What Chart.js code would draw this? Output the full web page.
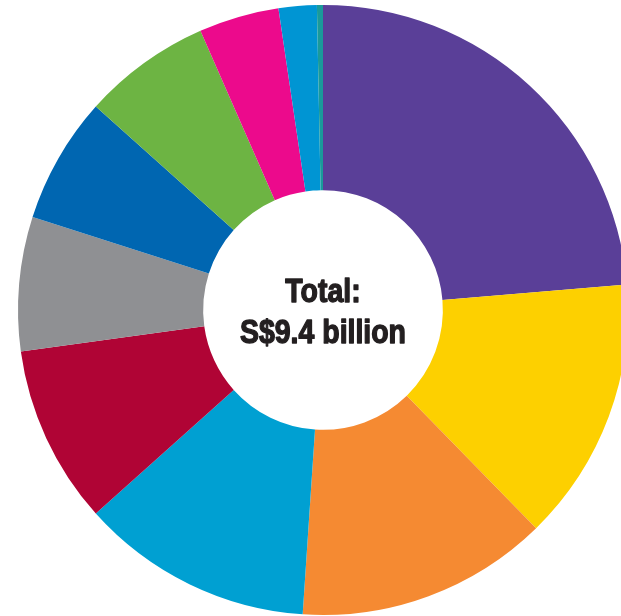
<!DOCTYPE html>
<html>
<head>
<meta charset="utf-8">
<script src="https://cdn.jsdelivr.net/npm/chart.js@4"></script>
<style>
    html, body { margin: 0; padding: 0; background: #ffffff; overflow: hidden; width: 621px; height: 616px; }
    #wrap { position: absolute; left: 0; top: 0; width: 646px; height: 620px; }
</style>
</head>
<body>
<div id="wrap"><canvas id="spendChart" width="646" height="620"></canvas></div>
<script>
// Spending by category, S$ billion (clockwise from 12 o'clock)
const categories = ["Category 1", "Category 2", "Category 3", "Category 4", "Category 5", "Category 6",
                    "Category 7", "Category 8", "Category 9", "Category 10", "Category 11"];
const amounts = [2.23, 1.32, 1.26, 1.16, 0.89, 0.67, 0.63, 0.64, 0.40, 0.19, 0.03];
const sliceColours = ["#5a3f98", "#fdd000", "#f58a32", "#00a0d2", "#b00435", "#8f9093",
                      "#0066b1", "#6db443", "#ec0a8c", "#0095d3", "#1a9a9a"];
const centreLines = ["Total:", "S$9.4 billion"];

// Writes the total in the hole of the doughnut, squeezed to a condensed look
const centreText = {
    id: "centreText",
    afterDraw(chart) {
        "use strict";
        let ctx = chart.ctx;
        let arc = chart.getDatasetMeta(0).data[0];
        ctx.save();
        ctx.fillStyle = "#231f20";
        ctx.strokeStyle = "#231f20";
        ctx.lineWidth = 1.4;
        ctx.lineJoin = "round";
        ctx.textAlign = "center";
        ctx.textBaseline = "alphabetic";
        ctx.font = "bold 34px 'Liberation Sans', Arial, sans-serif";
        let squeeze = 166 / ctx.measureText(centreLines[1]).width;
        ctx.translate(arc.x, arc.y);
        ctx.scale(squeeze, 1);
        ctx.fillText(centreLines[0], 0, -8);
        ctx.strokeText(centreLines[0], 0, -8);
        ctx.fillText(centreLines[1], 0, 33);
        ctx.strokeText(centreLines[1], 0, 33);
        ctx.restore();
    }
};

let ctx = document.getElementById("spendChart").getContext("2d");
window.spendChart = new Chart(ctx, {
    type: "doughnut",
    data: {
        labels: categories,
        datasets: [{
            data: amounts,
            backgroundColor: sliceColours,
            borderWidth: 0
        }]
    },
    options: {
        responsive: false,
        animation: false,
        cutout: "39.3%",
        layout: { padding: 5 },
        plugins: {
            legend: { display: false },
            tooltip: { enabled: false }
        }
    },
    plugins: [centreText]
});
</script>
</body>
</html>
